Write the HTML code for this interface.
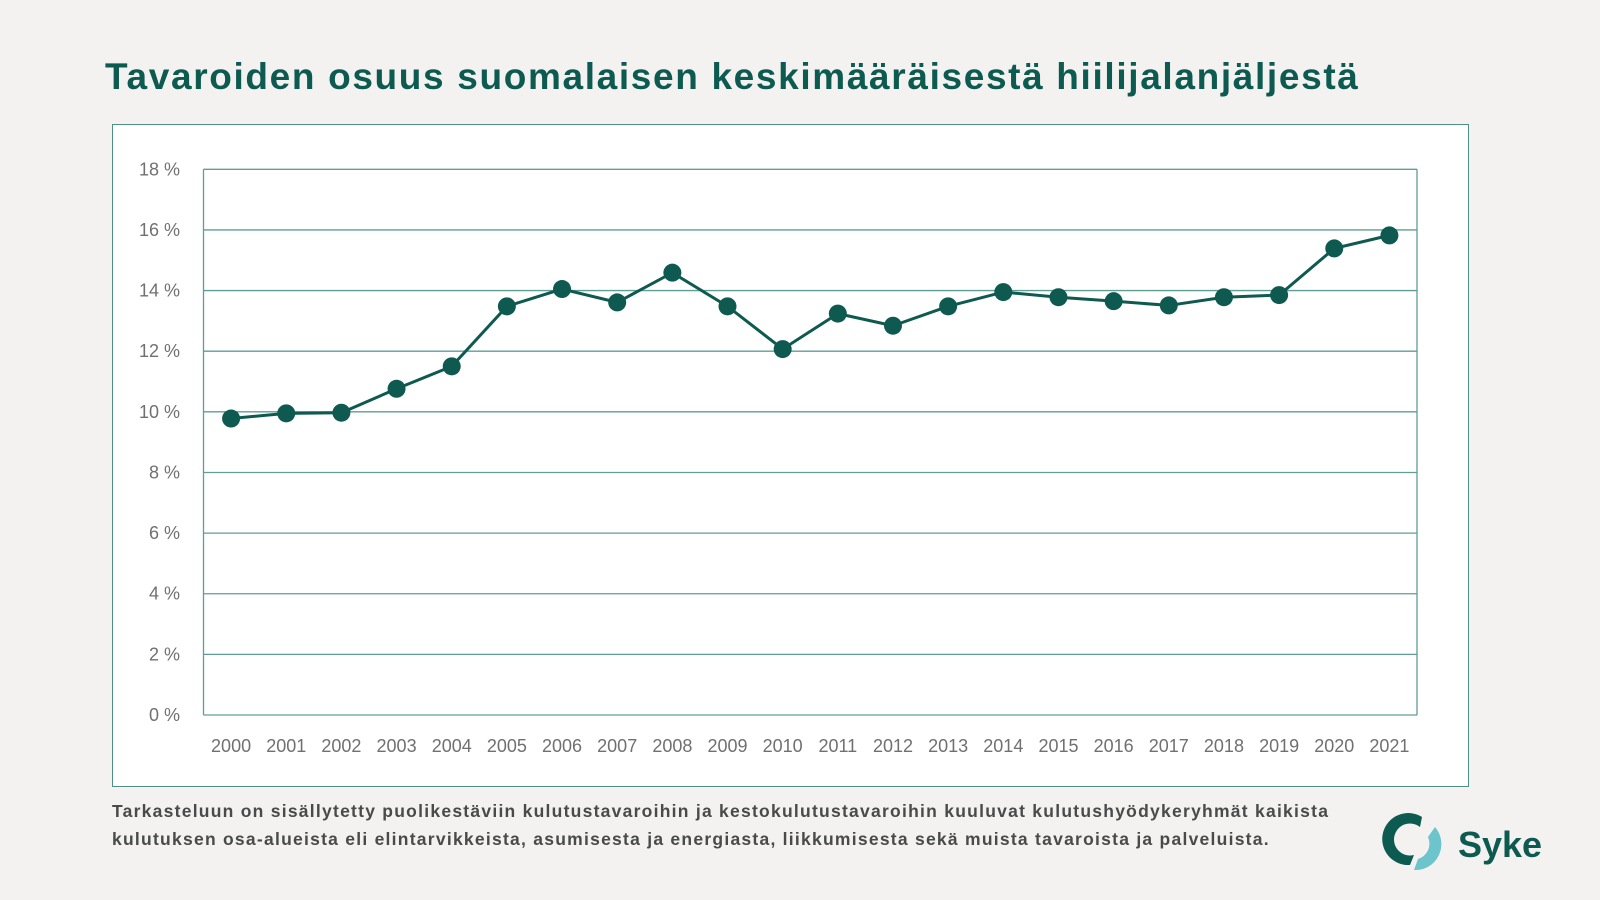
<!DOCTYPE html>
<html><head><meta charset="utf-8"><style>
html,body{margin:0;padding:0;background:#f3f2f0;}
body{width:1600px;height:900px;position:relative;overflow:hidden;font-family:"Liberation Sans",sans-serif;}
.title{position:absolute;left:105px;top:56px;font-size:37px;font-weight:bold;color:#0c5a50;letter-spacing:1.65px;}
.box{position:absolute;left:112px;top:124px;width:1357px;height:663px;background:#fff;border:1.5px solid #4f8f88;box-sizing:border-box;}
.foot{position:absolute;left:112px;top:798px;font-size:17.5px;font-weight:bold;color:#4a4a4a;line-height:27.5px;letter-spacing:1.25px;}
</style></head><body>
<div class="title">Tavaroiden osuus suomalaisen keskimääräisestä hiilijalanjäljestä</div>
<div class="box"></div>
<svg width="1600" height="900" style="position:absolute;left:0;top:0">
<g id="g" stroke="#5f9d95" stroke-width="1.3" fill="none"></g>
<g id="l" font-family="Liberation Sans, sans-serif" font-size="18" fill="#707070"></g>
<polyline id="pl" fill="none" stroke="#0f5a50" stroke-width="3"/>
<g id="pts" fill="#0f5a50"></g>
<g transform="translate(1400,815)">
<path d="M22,2 A26,26 0 1 0 10,50 L14,40 A16,16 0 1 1 20,12 Z" fill="#0c5a50"/>
<path d="M14,55 A26,26 0 0 0 35,12 L28,22 A16,16 0 0 1 18,44 Z" fill="#6cc4cc"/>
<text x="58" y="42" font-size="36" font-weight="bold" fill="#0c5a50" font-family="Liberation Sans, sans-serif">Syke</text>
</g>
</svg>
<div class="foot">Tarkasteluun on sisällytetty puolikestäviin kulutustavaroihin ja kestokulutustavaroihin kuuluvat kulutushyödykeryhmät kaikista<br>kulutuksen osa-alueista eli elintarvikkeista, asumisesta ja energiasta, liikkumisesta sekä muista tavaroista ja palveluista.</div>
<script>
var L=203.5,R=1417,T=169.3,B=715,ns="http://www.w3.org/2000/svg";
var g=document.getElementById('g'),l=document.getElementById('l');
function el(p,t,a){var e=document.createElementNS(ns,t);for(var k in a)e.setAttribute(k,a[k]);p.appendChild(e);return e;}
for(var i=0;i<=9;i++){var y=T+(B-T)*i/9;el(g,'line',{x1:L,x2:R,y1:y,y2:y});var t=el(l,'text',{x:180,y:y+6,'text-anchor':'end'});t.textContent=(18-2*i)+' %';}
el(g,'line',{x1:L,x2:L,y1:T,y2:B});el(g,'line',{x1:R,x2:R,y1:T,y2:B});
var v=[9.78,9.95,9.97,10.76,11.5,13.48,14.05,13.61,14.59,13.48,12.07,13.24,12.84,13.48,13.95,13.78,13.65,13.51,13.78,13.85,15.39,15.82];
var w=(R-L)/22,pts=[],pg=document.getElementById('pts');
v.forEach(function(d,i){var x=L+w*(i+0.5),y=B-(B-T)*d/18;pts.push(x+','+y);el(pg,'circle',{cx:x,cy:y,r:9});
var t=el(l,'text',{x:x,y:752,'text-anchor':'middle'});t.textContent=2000+i;});
document.getElementById('pl').setAttribute('points',pts.join(' '));
</script>
</body></html>
